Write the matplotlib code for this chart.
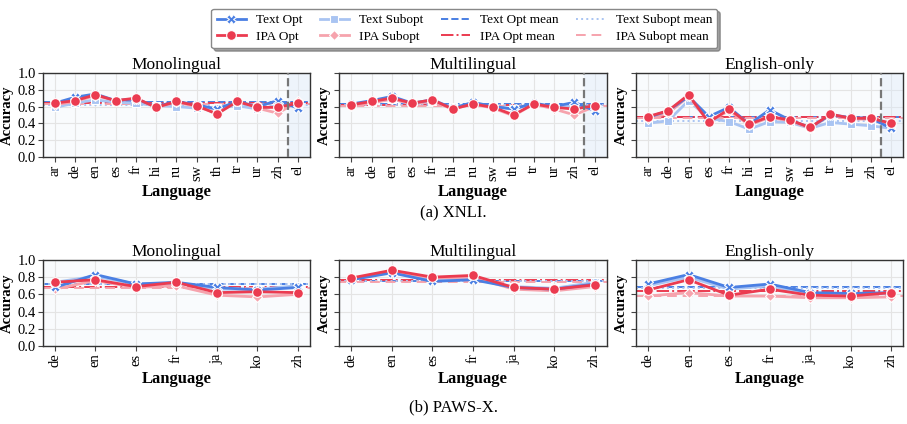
import matplotlib
matplotlib.use('Agg')
import matplotlib.pyplot as plt
from matplotlib.lines import Line2D
import numpy as np

plt.rcParams['font.family'] = ['Liberation Serif', 'DejaVu Serif']

# ---- data ----
xnli_langs = ['ar', 'de', 'en', 'es', 'fr', 'hi', 'ru', 'sw', 'th', 'tr', 'ur', 'zh', 'el']
paws_langs = ['de', 'en', 'es', 'fr', 'ja', 'ko', 'zh']
settings = ['Monolingual', 'Multilingual', 'English-only']

# XNLI
xnli_text_opt = [
    [0.64, 0.71, 0.75, 0.67, 0.69, 0.60, 0.66, 0.62, 0.57, 0.66, 0.60, 0.67, 0.58],
    [0.63, 0.67, 0.72, 0.64, 0.68, 0.58, 0.65, 0.60, 0.57, 0.64, 0.60, 0.65, 0.55],
    [0.47, 0.55, 0.72, 0.48, 0.59, 0.39, 0.56, 0.44, 0.35, 0.50, 0.47, 0.46, 0.34],
]
xnli_ipa_opt = [
    [0.64, 0.67, 0.74, 0.67, 0.70, 0.59, 0.66, 0.61, 0.51, 0.66, 0.59, 0.59, 0.64],
    [0.62, 0.66, 0.70, 0.64, 0.68, 0.57, 0.63, 0.59, 0.50, 0.63, 0.59, 0.57, 0.61],
    [0.48, 0.55, 0.74, 0.41, 0.57, 0.39, 0.48, 0.44, 0.35, 0.51, 0.46, 0.46, 0.40],
]
xnli_text_sub = [
    [0.59, 0.64, 0.68, 0.65, 0.64, 0.61, 0.60, 0.58, 0.58, 0.61, 0.57, 0.61, 0.63],
    [0.62, 0.65, 0.69, 0.63, 0.66, 0.59, 0.63, 0.60, 0.57, 0.63, 0.59, 0.61, 0.60],
    [0.40, 0.43, 0.67, 0.46, 0.42, 0.33, 0.42, 0.41, 0.34, 0.41, 0.39, 0.37, 0.34],
]
xnli_ipa_sub = [
    [0.62, 0.66, 0.73, 0.67, 0.69, 0.59, 0.65, 0.60, 0.52, 0.67, 0.58, 0.52, 0.66],
    [0.61, 0.64, 0.69, 0.63, 0.66, 0.57, 0.63, 0.58, 0.49, 0.63, 0.57, 0.50, 0.60],
    [0.45, 0.52, 0.72, 0.42, 0.55, 0.38, 0.47, 0.43, 0.34, 0.50, 0.45, 0.45, 0.39],
]
xnli_text_opt_mean = [0.65, 0.635, 0.48]
xnli_ipa_opt_mean = [0.638, 0.62, 0.48]
xnli_text_sub_mean = [0.615, 0.62, 0.425]
xnli_ipa_sub_mean = [0.625, 0.61, 0.46]

# PAWS-X
paws_text_opt = [
    [0.68, 0.83, 0.72, 0.74, 0.68, 0.65, 0.68],
    [0.77, 0.85, 0.75, 0.77, 0.68, 0.66, 0.72],
    [0.72, 0.83, 0.68, 0.72, 0.62, 0.61, 0.62],
]
paws_ipa_opt = [
    [0.74, 0.77, 0.69, 0.74, 0.62, 0.63, 0.62],
    [0.79, 0.88, 0.80, 0.82, 0.68, 0.66, 0.71],
    [0.65, 0.77, 0.59, 0.66, 0.59, 0.58, 0.62],
]
paws_text_sub = [
    [0.74, 0.81, 0.72, 0.73, 0.66, 0.66, 0.70],
    [0.78, 0.86, 0.77, 0.78, 0.69, 0.67, 0.74],
    [0.70, 0.80, 0.66, 0.70, 0.60, 0.60, 0.61],
]
paws_ipa_sub = [
    [0.66, 0.76, 0.68, 0.70, 0.59, 0.57, 0.60],
    [0.78, 0.87, 0.79, 0.80, 0.66, 0.64, 0.69],
    [0.58, 0.62, 0.58, 0.58, 0.56, 0.56, 0.57],
]
paws_text_opt_mean = [0.72, 0.755, 0.685]
paws_ipa_opt_mean = [0.69, 0.762, 0.643]
paws_text_sub_mean = [0.715, 0.75, 0.67]
paws_ipa_sub_mean = [0.67, 0.745, 0.58]

# ---- style ----
C_TEXT = '#4a7fe3'
C_IPA = '#eb3b50'
C_TEXT_SUB = '#a9c4f2'
C_IPA_SUB = '#f6a3ad'
FACE = '#f9fbfd'

fig = plt.figure(figsize=(9.07, 4.24), dpi=100)
lefts = [0.047, 0.374, 0.701]
W = 0.295


def draw_panel(ax, langs, t_opt, i_opt, t_sub, i_sub, means, show_ylabels, held_out):
    x = np.arange(len(langs))
    ax.set_facecolor(FACE)
    ax.grid(True, color='#e4e4e4', lw=0.8, zorder=0)
    ax.set_axisbelow(True)
    ax.plot(x, t_sub, color=C_TEXT_SUB, marker='s', ms=6, mec='white', mew=0.8, lw=2, zorder=3)
    ax.plot(x, i_sub, color=C_IPA_SUB, marker='D', ms=5.5, mec='white', mew=0.8, lw=2, zorder=3)
    ax.plot(x, t_opt, color=C_TEXT, marker='X', ms=7, mec='white', mew=0.8, lw=2, zorder=4)
    ax.plot(x, i_opt, color=C_IPA, marker='o', ms=7, mec='white', mew=0.8, lw=2, zorder=5)
    tm, im, tsm, ism = means
    ax.axhline(tm, color=C_TEXT, ls='--', lw=1.4, zorder=2)
    ax.axhline(im, color=C_IPA, ls='-.', lw=1.4, zorder=2)
    ax.axhline(tsm, color=C_TEXT_SUB, ls=':', lw=1.4, zorder=2)
    ax.axhline(ism, color=C_IPA_SUB, ls=(0, (5, 3)), lw=1.4, zorder=2)
    ax.set_ylim(0, 1.0)
    ax.set_yticks([0.0, 0.2, 0.4, 0.6, 0.8, 1.0])
    ax.set_xticks(x)
    ax.set_xticklabels(langs, rotation=90, fontsize=10.5)
    ax.tick_params(axis='y', labelsize=10.5, length=3.5, color='#444444', pad=1.5)
    ax.tick_params(axis='x', length=3.5, color='#444444', pad=2)
    if not show_ylabels:
        ax.tick_params(axis='y', labelleft=False)
    else:
        ax.set_yticklabels(['0.0', '0.2', '0.4', '0.6', '0.8', '1.0'])
    if held_out:
        xl = ax.get_xlim()
        ax.axvspan(len(langs) - 1.5, xl[1], color='#dbe9fa', alpha=0.35, lw=0, zorder=1)
        ax.axvline(len(langs) - 1.5, color='#777777', ls='--', lw=1.6, zorder=6)
        ax.set_xlim(xl)
    for s in ax.spines.values():
        s.set_color('#333333')
        s.set_linewidth(1.0)
    ax.set_ylabel('Accuracy', fontsize=10.5, fontweight='bold', labelpad=2.5)
    ax.set_xlabel('Language', fontsize=12, fontweight='bold', labelpad=2)


# XNLI row
for k in range(3):
    ax = fig.add_axes([lefts[k], 0.630, W, 0.198])
    draw_panel(ax, xnli_langs, xnli_text_opt[k], xnli_ipa_opt[k], xnli_text_sub[k], xnli_ipa_sub[k],
               (xnli_text_opt_mean[k], xnli_ipa_opt_mean[k], xnli_text_sub_mean[k], xnli_ipa_sub_mean[k]),
               k == 0, True)
    ax.set_title(settings[k], fontsize=12.5, pad=3)

# PAWS-X row
for k in range(3):
    ax = fig.add_axes([lefts[k], 0.184, W, 0.203])
    draw_panel(ax, paws_langs, paws_text_opt[k], paws_ipa_opt[k], paws_text_sub[k], paws_ipa_sub[k],
               (paws_text_opt_mean[k], paws_ipa_opt_mean[k], paws_text_sub_mean[k], paws_ipa_sub_mean[k]),
               k == 0, False)
    ax.set_title(settings[k], fontsize=12.5, pad=3)

fig.text(0.5, 0.497, '(a) XNLI.', ha='center', va='center', fontsize=12)
fig.text(0.5, 0.038, '(b) PAWS-X.', ha='center', va='center', fontsize=12)

# legend
handles = [
    Line2D([], [], color=C_TEXT, marker='X', ms=7, mec='white', mew=0.8, lw=2),
    Line2D([], [], color=C_IPA, marker='o', ms=7, mec='white', mew=0.8, lw=2),
    Line2D([], [], color=C_TEXT_SUB, marker='s', ms=6, mec='white', mew=0.8, lw=2),
    Line2D([], [], color=C_IPA_SUB, marker='D', ms=5.5, mec='white', mew=0.8, lw=2),
    Line2D([], [], color=C_TEXT, ls='--', lw=1.4),
    Line2D([], [], color=C_IPA, ls='-.', lw=1.4),
    Line2D([], [], color=C_TEXT_SUB, ls=':', lw=1.4),
    Line2D([], [], color=C_IPA_SUB, ls=(0, (5, 3)), lw=1.4),
]
labels = ['Text Opt', 'IPA Opt', 'Text Subopt', 'IPA Subopt',
          'Text Opt mean', 'IPA Opt mean', 'Text Subopt mean', 'IPA Subopt mean']
fig.legend(handles, labels, loc='upper center', bbox_to_anchor=(0.512, 0.995), ncol=4,
           fontsize=9.5, frameon=True, fancybox=True, shadow=True, handlelength=2.2,
           columnspacing=1.3, handletextpad=0.8, labelspacing=0.35, borderpad=0.4,
           edgecolor='#888888')

fig.savefig('out.png', dpi=100)
